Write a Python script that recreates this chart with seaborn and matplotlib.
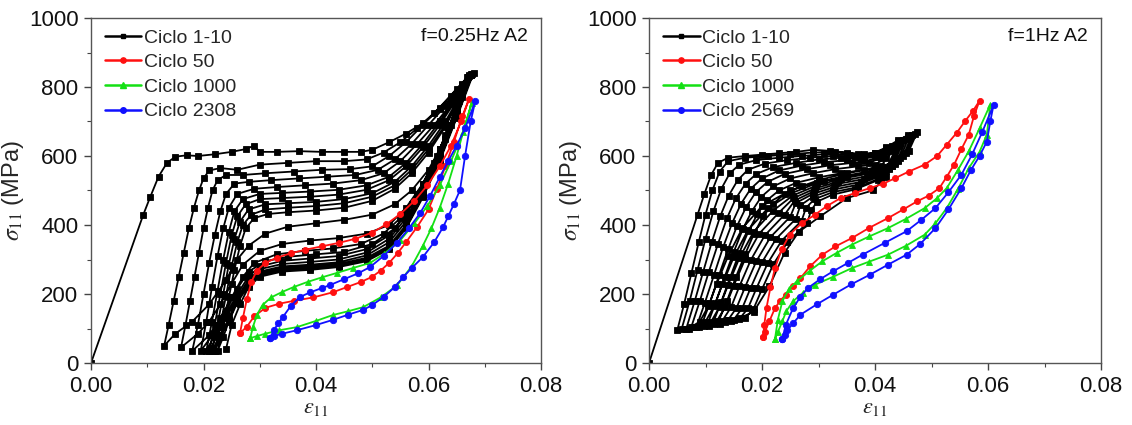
import matplotlib
matplotlib.use('Agg')
import matplotlib.pyplot as plt
from matplotlib.lines import Line2D
from matplotlib.ticker import MultipleLocator
import seaborn as sns
import pandas as pd

# ---------------- DATA: f = 0.25 Hz (left panel) ----------------
# Ciclo 1-10 (one continuous strain path: loading / unloading segments)
black_025_eps = [
    [0, 0.0093, 0.0105, 0.012, 0.0135, 0.015, 0.017, 0.019, 0.022, 0.025, 0.0275, 0.029, 0.030, 0.033, 0.037, 0.041, 0.045, 0.048, 0.050, 0.053, 0.056, 0.059, 0.062, 0.064, 0.066, 0.0675],
    [0.066, 0.064, 0.062, 0.060, 0.057, 0.054, 0.050, 0.045, 0.040, 0.035, 0.031, 0.028, 0.026, 0.024, 0.021, 0.018, 0.015, 0.013],
    [0.0138, 0.0147, 0.0156, 0.0165, 0.0174, 0.0183, 0.0192, 0.020, 0.021, 0.023, 0.026, 0.030, 0.035, 0.040, 0.045, 0.049, 0.052, 0.055, 0.058, 0.061, 0.064, 0.066, 0.0672],
    [0.0655, 0.0635, 0.0615, 0.059, 0.056, 0.053, 0.049, 0.044, 0.039, 0.034, 0.030, 0.027, 0.025, 0.023, 0.021, 0.019, 0.016],
    [0.0168, 0.0176, 0.0184, 0.0192, 0.020, 0.0208, 0.0216, 0.0225, 0.024, 0.027, 0.031, 0.036, 0.041, 0.046, 0.050, 0.053, 0.056, 0.059, 0.062, 0.065, 0.067],
    [0.065, 0.063, 0.061, 0.058, 0.055, 0.052, 0.048, 0.043, 0.038, 0.033, 0.029, 0.027, 0.025, 0.023, 0.021, 0.018],
    [0.019, 0.020, 0.021, 0.022, 0.023, 0.024, 0.0255, 0.028, 0.032, 0.037, 0.042, 0.047, 0.051, 0.054, 0.057, 0.060, 0.063, 0.066, 0.0675],
    [0.065, 0.063, 0.060, 0.057, 0.054, 0.050, 0.045, 0.040, 0.035, 0.031, 0.028, 0.026, 0.024, 0.022, 0.0195],
    [0.0205, 0.0215, 0.0225, 0.0235, 0.0245, 0.026, 0.029, 0.033, 0.038, 0.043, 0.048, 0.052, 0.055, 0.058, 0.061, 0.064, 0.0668],
    [0.065, 0.062, 0.059, 0.056, 0.053, 0.049, 0.044, 0.039, 0.034, 0.030, 0.028, 0.026, 0.024, 0.022, 0.0205],
    [0.0215, 0.0225, 0.0235, 0.0245, 0.0255, 0.027, 0.030, 0.034, 0.039, 0.044, 0.049, 0.053, 0.056, 0.059, 0.062, 0.065, 0.067],
    [0.065, 0.062, 0.059, 0.056, 0.053, 0.049, 0.044, 0.039, 0.034, 0.030, 0.028, 0.026, 0.024, 0.0225, 0.021],
    [0.022, 0.023, 0.024, 0.025, 0.026, 0.0275, 0.030, 0.034, 0.039, 0.044, 0.049, 0.053, 0.056, 0.059, 0.062, 0.065, 0.0672],
    [0.065, 0.062, 0.059, 0.056, 0.053, 0.049, 0.044, 0.039, 0.034, 0.030, 0.028, 0.026, 0.0245, 0.023, 0.0215],
    [0.0225, 0.0235, 0.0245, 0.0255, 0.0265, 0.028, 0.031, 0.035, 0.040, 0.045, 0.050, 0.054, 0.057, 0.060, 0.063, 0.066, 0.0675],
    [0.065, 0.062, 0.059, 0.056, 0.053, 0.049, 0.044, 0.039, 0.034, 0.030, 0.028, 0.026, 0.0245, 0.023, 0.022],
    [0.023, 0.024, 0.025, 0.026, 0.027, 0.0285, 0.031, 0.035, 0.040, 0.045, 0.050, 0.054, 0.057, 0.060, 0.063, 0.066, 0.0678],
    [0.065, 0.062, 0.059, 0.056, 0.053, 0.049, 0.044, 0.039, 0.034, 0.030, 0.028, 0.026, 0.0245, 0.0235, 0.0225],
    [0.0235, 0.0245, 0.0255, 0.0265, 0.0275, 0.029, 0.0315, 0.035, 0.040, 0.045, 0.050, 0.054, 0.057, 0.060, 0.063, 0.066, 0.068],
    [0.065, 0.062, 0.059, 0.056, 0.053, 0.049, 0.044, 0.039, 0.034, 0.030, 0.028, 0.0265, 0.025, 0.024],
]
black_025_sig = [
    [0, 430, 480, 540, 580, 598, 602, 600, 605, 612, 620, 630, 612, 612, 614, 612, 612, 612, 618, 640, 665, 695, 735, 765, 800, 838],
    [770, 690, 620, 560, 500, 460, 430, 415, 405, 395, 375, 340, 300, 240, 170, 120, 85, 50],
    [110, 180, 250, 320, 390, 450, 500, 535, 558, 565, 560, 575, 580, 585, 585, 590, 610, 640, 680, 725, 775, 810, 835],
    [760, 680, 600, 520, 450, 400, 375, 362, 355, 345, 325, 285, 230, 170, 120, 85, 45],
    [110, 180, 250, 320, 390, 450, 500, 530, 545, 545, 550, 555, 560, 562, 570, 600, 640, 690, 740, 795, 830],
    [740, 660, 580, 490, 420, 375, 345, 332, 325, 315, 290, 250, 190, 130, 80, 35],
    [110, 200, 290, 370, 440, 490, 520, 525, 530, 535, 540, 545, 560, 590, 635, 690, 745, 805, 835],
    [730, 650, 550, 460, 390, 345, 322, 315, 308, 295, 265, 215, 150, 90, 35],
    [120, 220, 310, 390, 450, 490, 505, 510, 515, 520, 530, 550, 585, 635, 690, 750, 830],
    [740, 620, 520, 430, 370, 330, 310, 303, 296, 280, 250, 200, 140, 80, 35],
    [120, 210, 300, 380, 440, 475, 490, 493, 497, 502, 515, 540, 580, 635, 700, 770, 830],
    [730, 610, 505, 420, 360, 320, 300, 293, 287, 272, 240, 190, 130, 80, 35],
    [110, 200, 290, 370, 425, 460, 475, 478, 482, 488, 502, 530, 570, 625, 690, 765, 832],
    [725, 600, 495, 410, 350, 312, 292, 285, 280, 265, 235, 185, 130, 80, 35],
    [110, 200, 285, 360, 410, 445, 460, 463, 467, 475, 492, 525, 570, 630, 700, 785, 835],
    [720, 595, 490, 400, 340, 305, 287, 280, 275, 260, 230, 180, 125, 75, 35],
    [110, 195, 280, 350, 400, 430, 445, 450, 455, 463, 482, 515, 560, 620, 690, 780, 838],
    [715, 590, 485, 395, 335, 300, 282, 275, 270, 255, 225, 175, 120, 75, 35],
    [105, 190, 270, 340, 390, 420, 432, 437, 442, 450, 470, 505, 550, 610, 685, 780, 840],
    [710, 585, 480, 390, 330, 295, 278, 270, 265, 250, 220, 170, 110, 40],
]
red_025_eps = [0.0265, 0.027, 0.0277, 0.0285, 0.0295, 0.031, 0.033, 0.0355, 0.038, 0.041, 0.044, 0.047, 0.050, 0.0525, 0.055, 0.0575, 0.0598, 0.062, 0.064, 0.0658, 0.0672,
               0.066, 0.0645, 0.063, 0.0615, 0.060, 0.058, 0.056, 0.0545, 0.053, 0.0515, 0.050, 0.048, 0.0455, 0.043, 0.0395, 0.036, 0.0335, 0.031, 0.029, 0.0277, 0.0265]
red_025_sig = [87, 130, 185, 235, 268, 290, 305, 318, 328, 338, 348, 360, 378, 402, 432, 470, 515, 570, 630, 700, 765,
               715, 640, 570, 505, 445, 395, 350, 318, 290, 268, 250, 235, 220, 205, 190, 180, 172, 160, 135, 105, 87]
green_025_eps = [0.0283, 0.0288, 0.0295, 0.0305, 0.032, 0.034, 0.036, 0.0385, 0.041, 0.0437, 0.0465, 0.0496, 0.052, 0.055, 0.0575, 0.0598, 0.062, 0.064, 0.0662, 0.0677,
                 0.0665, 0.065, 0.0635, 0.062, 0.0605, 0.059, 0.057, 0.0544, 0.0515, 0.0484, 0.0457, 0.043, 0.040, 0.0366, 0.0335, 0.031, 0.0295, 0.0283]
green_025_sig = [72, 105, 140, 168, 190, 206, 220, 235, 248, 261, 275, 290, 315, 356, 405, 455, 515, 585, 670, 755,
                 690, 600, 520, 450, 390, 340, 280, 225, 190, 162, 150, 139, 122, 104, 95, 85, 78, 72]
blue_025_eps = [0.0318, 0.0325, 0.0333, 0.0341, 0.0355, 0.0371, 0.039, 0.041, 0.0425, 0.045, 0.0475, 0.0496, 0.052, 0.0544, 0.0565, 0.0585, 0.0603, 0.062, 0.0635, 0.065, 0.0665, 0.0683,
                0.0675, 0.0665, 0.0656, 0.0645, 0.0635, 0.0626, 0.061, 0.059, 0.057, 0.0555, 0.054, 0.052, 0.050, 0.0484, 0.0457, 0.043, 0.040, 0.0366, 0.034, 0.0325, 0.0318]
blue_025_sig = [72, 95, 115, 133, 165, 191, 205, 217, 226, 243, 260, 278, 310, 348, 390, 434, 485, 539, 585, 630, 680, 758,
                700, 600, 501, 460, 425, 394, 350, 307, 275, 249, 220, 191, 168, 154, 140, 125, 110, 95, 85, 78, 72]

# ---------------- DATA: f = 1 Hz (right panel) ----------------
black_1_eps = [
    [0, 0.0086, 0.0098, 0.011, 0.0122, 0.014, 0.017, 0.020, 0.023, 0.026, 0.029, 0.032, 0.035, 0.038, 0.040, 0.042, 0.044, 0.0458, 0.0475],
    [0.046, 0.044, 0.040, 0.035, 0.030, 0.025, 0.020, 0.0165, 0.014, 0.012, 0.0105, 0.009, 0.007, 0.005],
    [0.0062, 0.0075, 0.0088, 0.010, 0.0112, 0.0125, 0.014, 0.017, 0.021, 0.025, 0.029, 0.033, 0.037, 0.040, 0.042, 0.044, 0.0458, 0.047],
    [0.0455, 0.0435, 0.0395, 0.0345, 0.0298, 0.0252, 0.021, 0.0175, 0.015, 0.013, 0.0115, 0.010, 0.008, 0.0058],
    [0.0072, 0.0086, 0.010, 0.0114, 0.0128, 0.0143, 0.016, 0.019, 0.023, 0.027, 0.031, 0.035, 0.038, 0.041, 0.043, 0.045, 0.0465],
    [0.045, 0.043, 0.039, 0.034, 0.0296, 0.0254, 0.022, 0.0185, 0.016, 0.014, 0.0125, 0.011, 0.0088, 0.0066],
    [0.0081, 0.0096, 0.0111, 0.0126, 0.0141, 0.0157, 0.0175, 0.0205, 0.0245, 0.0285, 0.0325, 0.0365, 0.040, 0.0425, 0.0445, 0.046],
    [0.0445, 0.0425, 0.0385, 0.0335, 0.0294, 0.0256, 0.023, 0.0195, 0.017, 0.015, 0.0135, 0.012, 0.0097, 0.0075],
    [0.009, 0.0106, 0.0122, 0.0138, 0.0154, 0.0171, 0.019, 0.022, 0.026, 0.030, 0.034, 0.0375, 0.0405, 0.043, 0.0455],
    [0.044, 0.042, 0.038, 0.033, 0.0292, 0.0258, 0.024, 0.0205, 0.018, 0.016, 0.0145, 0.013, 0.0106, 0.0084],
    [0.0099, 0.0115, 0.0131, 0.0147, 0.0163, 0.018, 0.020, 0.023, 0.027, 0.031, 0.035, 0.038, 0.041, 0.043, 0.045],
    [0.0435, 0.0415, 0.0375, 0.0328, 0.029, 0.026, 0.025, 0.0215, 0.019, 0.017, 0.0155, 0.014, 0.0115, 0.0093],
    [0.0108, 0.0124, 0.014, 0.0156, 0.0172, 0.0189, 0.021, 0.024, 0.028, 0.032, 0.036, 0.039, 0.0415, 0.0445],
    [0.043, 0.041, 0.037, 0.0325, 0.029, 0.0268, 0.026, 0.0225, 0.020, 0.018, 0.0165, 0.015, 0.0125, 0.0103],
    [0.0118, 0.0134, 0.015, 0.0166, 0.0182, 0.0199, 0.022, 0.025, 0.029, 0.033, 0.037, 0.040, 0.042, 0.0445],
    [0.043, 0.041, 0.037, 0.0325, 0.0293, 0.0278, 0.027, 0.0235, 0.021, 0.019, 0.0175, 0.016, 0.0135, 0.0113],
    [0.0128, 0.0144, 0.016, 0.0176, 0.0192, 0.0209, 0.023, 0.026, 0.030, 0.034, 0.038, 0.041, 0.044],
    [0.0425, 0.0405, 0.0365, 0.0325, 0.0298, 0.0287, 0.028, 0.0245, 0.022, 0.020, 0.0185, 0.017, 0.0145, 0.0123],
    [0.0138, 0.0154, 0.017, 0.0186, 0.0202, 0.022, 0.024, 0.027, 0.031, 0.035, 0.039, 0.042, 0.044],
    [0.042, 0.0396, 0.035, 0.0303, 0.0265, 0.024, 0.0213, 0.0185, 0.016, 0.014],
]
black_1_sig = [
    [0, 430, 490, 545, 580, 595, 600, 604, 608, 612, 618, 615, 610, 605, 610, 625, 645, 660, 670],
    [615, 585, 565, 550, 530, 500, 455, 390, 310, 230, 165, 120, 100, 95],
    [170, 260, 350, 430, 500, 555, 585, 595, 600, 605, 610, 612, 605, 608, 622, 640, 655, 665],
    [608, 578, 557, 542, 522, 492, 448, 385, 307, 228, 164, 120, 103, 100],
    [180, 270, 360, 440, 505, 550, 575, 588, 595, 600, 605, 605, 600, 610, 628, 645, 660],
    [600, 570, 549, 534, 514, 485, 442, 380, 304, 226, 163, 120, 104, 100],
    [180, 265, 350, 425, 485, 530, 560, 578, 588, 595, 600, 598, 600, 618, 638, 655],
    [595, 563, 541, 526, 506, 478, 436, 375, 301, 224, 162, 122, 108, 105],
    [180, 265, 345, 420, 478, 520, 548, 568, 580, 590, 595, 592, 598, 620, 650],
    [588, 556, 533, 518, 498, 471, 430, 370, 298, 222, 161, 123, 108, 105],
    [175, 255, 335, 405, 462, 505, 535, 558, 572, 582, 588, 585, 595, 615, 645],
    [582, 549, 525, 510, 490, 464, 424, 365, 295, 220, 160, 125, 112, 110],
    [175, 255, 330, 398, 452, 495, 525, 548, 562, 573, 580, 580, 598, 640],
    [576, 542, 517, 502, 482, 457, 418, 360, 292, 218, 159, 126, 113, 110],
    [175, 250, 322, 388, 440, 482, 512, 535, 550, 562, 570, 575, 595, 638],
    [572, 536, 510, 495, 475, 450, 412, 355, 289, 216, 158, 128, 118, 115],
    [178, 250, 320, 382, 432, 472, 500, 522, 538, 550, 560, 570, 632],
    [565, 530, 503, 488, 468, 443, 406, 350, 286, 214, 157, 130, 122, 120],
    [180, 250, 315, 375, 425, 462, 490, 512, 528, 540, 552, 565, 630],
    [540, 500, 478, 425, 380, 320, 222, 148, 130, 125],
]
red_1_eps = [0.0202, 0.0204, 0.0208, 0.0215, 0.0223, 0.0235, 0.0249, 0.027, 0.0294, 0.0315, 0.0339, 0.0365, 0.0391, 0.0415, 0.0436, 0.046, 0.0488, 0.051, 0.0527, 0.0545, 0.0559, 0.0573, 0.0585,
             0.0575, 0.0566, 0.0553, 0.054, 0.0527, 0.0514, 0.0495, 0.0475, 0.045, 0.0423, 0.039, 0.0359, 0.033, 0.0307, 0.0285, 0.0268, 0.0255, 0.0242, 0.0232, 0.0223, 0.0213, 0.0205, 0.0202]
red_1_sig = [75, 110, 160, 220, 275, 330, 372, 405, 430, 455, 478, 493, 507, 520, 536, 555, 575, 600, 633, 668, 700, 730, 760,
             715, 662, 620, 575, 540, 507, 485, 469, 445, 420, 392, 362, 338, 314, 280, 246, 222, 198, 180, 159, 121, 90, 75]
green_1_eps = [0.0223, 0.0228, 0.0236, 0.0248, 0.0262, 0.0285, 0.0307, 0.0333, 0.0359, 0.039, 0.0423, 0.0455, 0.0488, 0.051, 0.0527, 0.0547, 0.0566, 0.0585, 0.0604,
               0.0598, 0.0585, 0.0566, 0.0547, 0.0527, 0.0507, 0.0488, 0.0455, 0.0423, 0.039, 0.0359, 0.0326, 0.0294, 0.0272, 0.0255, 0.0243, 0.0236, 0.0228, 0.0223]
green_1_sig = [70, 125, 179, 215, 237, 268, 295, 320, 343, 367, 391, 418, 449, 478, 507, 560, 614, 680, 749,
               662, 612, 565, 505, 449, 405, 372, 340, 314, 294, 275, 250, 227, 203, 179, 150, 121, 90, 70]
blue_1_eps = [0.0236, 0.0242, 0.0255, 0.0268, 0.0281, 0.0303, 0.0326, 0.0352, 0.0378, 0.0417, 0.0456, 0.0482, 0.0507, 0.053, 0.0553, 0.0572, 0.059, 0.061,
              0.0604, 0.0598, 0.0585, 0.057, 0.0553, 0.053, 0.0507, 0.048, 0.0456, 0.0423, 0.0391, 0.0358, 0.0326, 0.0297, 0.0268, 0.0255, 0.0245, 0.024, 0.0236]
blue_1_sig = [70, 110, 159, 192, 217, 243, 266, 290, 314, 348, 382, 415, 449, 495, 546, 605, 670, 749,
              700, 642, 600, 560, 507, 445, 391, 345, 314, 285, 256, 228, 198, 170, 140, 115, 95, 80, 70]

legend_025 = ['Ciclo 1-10', 'Ciclo 50', 'Ciclo 1000', 'Ciclo 2308']
legend_1 = ['Ciclo 1-10', 'Ciclo 50', 'Ciclo 1000', 'Ciclo 2569']
titles = ['f=0.25Hz A2', 'f=1Hz A2']
xticks = [0.00, 0.02, 0.04, 0.06, 0.08]
xticklabels = ['0.00', '0.02', '0.04', '0.06', '0.08']
yticks = [0, 200, 400, 600, 800, 1000]

# ---------------- STYLE ----------------
sns.set_style('ticks')
plt.rcParams['font.family'] = ['Liberation Sans', 'DejaVu Sans']
plt.rcParams['mathtext.fontset'] = 'stix'

COL = {'black': '#000000', 'red': '#ff1010', 'green': '#14e014', 'blue': '#1010ff'}
MARK = {'black': 's', 'red': 'o', 'green': '^', 'blue': 'o'}
MS = {'black': 3.8, 'red': 4.4, 'green': 4.8, 'blue': 4.6}


def flatten(segs):
    out = []
    for s in segs:
        out.extend(s)
    return out


def draw(ax, key, eps, sig):
    df = pd.DataFrame({'eps': eps, 'sig': sig})
    sns.lineplot(data=df, x='eps', y='sig', sort=False, estimator=None, ax=ax,
                 color=COL[key], marker=MARK[key], markersize=MS[key],
                 markeredgecolor=COL[key], markeredgewidth=0.6, linewidth=1.3,
                 legend=False)


fig = plt.figure(figsize=(11.32, 4.25), dpi=100)
ax1 = fig.add_axes([91 / 1132, 1 - 363 / 425, 450 / 1132, 345 / 425])
ax2 = fig.add_axes([649 / 1132, 1 - 363 / 425, 452 / 1132, 345 / 425])

panels = [
    (ax1, [('black', flatten(black_025_eps), flatten(black_025_sig)),
           ('red', red_025_eps, red_025_sig),
           ('green', green_025_eps, green_025_sig),
           ('blue', blue_025_eps, blue_025_sig)], legend_025, titles[0]),
    (ax2, [('black', flatten(black_1_eps), flatten(black_1_sig)),
           ('red', red_1_eps, red_1_sig),
           ('green', green_1_eps, green_1_sig),
           ('blue', blue_1_eps, blue_1_sig)], legend_1, titles[1]),
]

for ax, series, labels, title in panels:
    for key, e, s in series:
        draw(ax, key, e, s)
    ax.set_xlim(0, 0.08)
    ax.set_ylim(0, 1000)
    ax.set_xticks(xticks)
    ax.set_xticklabels(xticklabels)
    ax.set_yticks(yticks)
    ax.xaxis.set_minor_locator(MultipleLocator(0.01))
    ax.yaxis.set_minor_locator(MultipleLocator(100))
    ax.tick_params(which='major', direction='out', length=5, width=1, labelsize=16,
                   color='#444444', labelcolor='#111111', pad=4)
    ax.tick_params(which='minor', direction='out', length=3, width=0.8, color='#444444')
    for sp in ax.spines.values():
        sp.set_visible(True)
        sp.set_color('#555555')
        sp.set_linewidth(1.0)
    ax.set_xlabel(r'$\varepsilon_{11}$', fontsize=16, labelpad=0)
    ax.set_ylabel(r'$\sigma_{11}$ (MPa)', fontsize=17, labelpad=2)
    handles = [Line2D([0], [0], color=COL[k], marker=MARK[k], markersize=MS[k] - 0.6,
                      markeredgecolor=COL[k], linewidth=1.8)
               for k in ['black', 'red', 'green', 'blue']]
    ax.legend(handles, labels, loc='upper left', bbox_to_anchor=(0.03, 0.968),
              frameon=False, fontsize=14, handlelength=1.9, handletextpad=0.15,
              labelspacing=0.36, borderaxespad=0, borderpad=0)
    ax.text(0.97, 0.945, title, transform=ax.transAxes, ha='right', va='center',
            fontsize=14, color='#111111')

fig.savefig('out.png', dpi=100)
